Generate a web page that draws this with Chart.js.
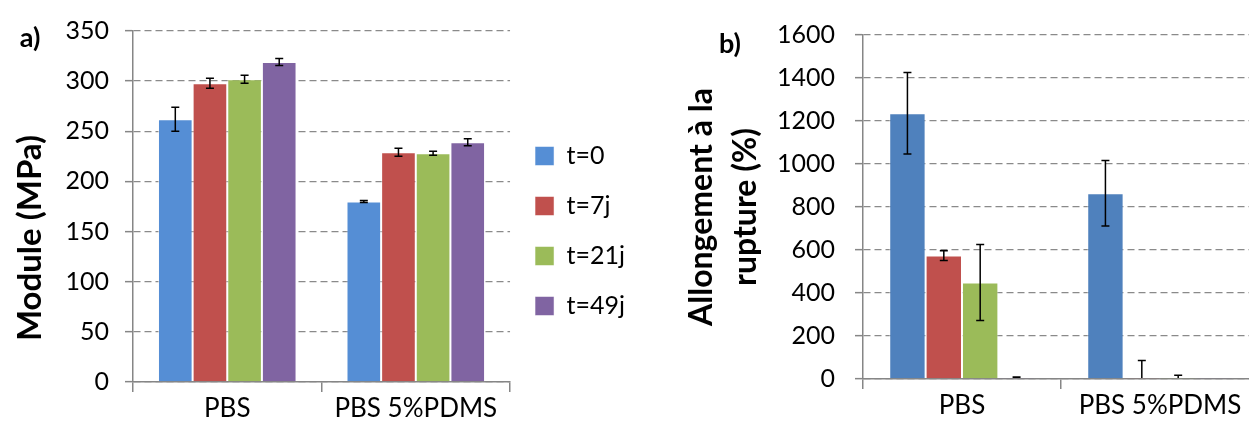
<!DOCTYPE html>
<html>
<head>
    <meta charset="UTF-8">
    <title>Module et allongement</title>
    <style>
        body { margin: 0; background: #fff; overflow: hidden; width: 1249px; height: 435px; position: relative; }
        canvas { position: absolute; top: 0; }
        #chart-a { left: 0; }
        #chart-b { left: 640px; }
    </style>
    <script src="https://cdn.jsdelivr.net/npm/chart.js@4.4.0/dist/chart.umd.min.js"></script>
</head>
<body>
<canvas id="chart-a" width="640" height="435"></canvas>
<canvas id="chart-b" width="640" height="435"></canvas>
<script>
    // données
    var categories = ['PBS', 'PBS 5%PDMS'];
    var seriesNames = ['t=0', 't=7j', 't=21j', 't=49j'];

    // a) module (MPa)
    var moduleT0 = [262, 180];
    var moduleT7 = [298, 229];
    var moduleT21 = [302, 228];
    var moduleT49 = [319, 239];
    var moduleErrT0 = [12, 1];
    var moduleErrT7 = [5, 4];
    var moduleErrT21 = [4, 2];
    var moduleErrT49 = [3.5, 3.5];

    // b) allongement a la rupture (%)
    var allongT0 = [1236, 864];
    var allongT7 = [574, 2];
    var allongT21 = [449, 2];
    var allongT49 = [6, 2];
    var allongErrT0 = [190, 152];
    var allongErrT7 = [23, 84];
    var allongErrT21 = [177, 15];
    var allongErrT49 = [3, 0];

    var FONT = 'Lato';
    var gray = '#868686';

    // barres d'erreur dessinées avec l'échelle y
    var errorBars = {
        id: 'errorBars',
        afterDatasetsDraw: function(chart) {
            var ctx = chart.ctx, area = chart.chartArea, y = chart.scales.y;
            ctx.save();
            ctx.beginPath();
            ctx.rect(area.left, area.top - 2, area.right - area.left, area.bottom - area.top + 1);
            ctx.clip();
            ctx.strokeStyle = '#000';
            ctx.lineWidth = 1.5;
            chart.data.datasets.forEach(function(ds, i) {
                chart.getDatasetMeta(i).data.forEach(function(bar, j) {
                    var e = ds.errors[j];
                    if (!e) return;
                    var top = y.getPixelForValue(ds.data[j] + e);
                    var bot = y.getPixelForValue(ds.data[j] - e);
                    ctx.beginPath();
                    ctx.moveTo(bar.x, top); ctx.lineTo(bar.x, bot);
                    ctx.moveTo(bar.x - 4, top); ctx.lineTo(bar.x + 4, top);
                    ctx.moveTo(bar.x - 4, bot); ctx.lineTo(bar.x + 4, bot);
                    ctx.stroke();
                });
            });
            ctx.restore();
        }
    };

    // lettres a) b) et titre vertical libre
    var extraText = {
        id: 'extraText',
        afterDraw: function(chart, args, opts) {
            var ctx = chart.ctx;
            ctx.save();
            ctx.fillStyle = '#000';
            ctx.textAlign = 'center';
            ctx.textBaseline = 'middle';
            ctx.font = 'bold 27px ' + FONT;
            ctx.fillText(opts.letter, opts.lx, opts.ly);
            if (opts.title) {
                ctx.translate(opts.tx, opts.ty);
                ctx.rotate(-Math.PI / 2);
                ctx.font = 'bold 33px ' + FONT;
                ctx.fillText(opts.title, 0, 0);
            }
            ctx.restore();
        }
    };

    function makeDatasets(values, errors, colors) {
        return values.map(function(v, i) {
            return {
                label: seriesNames[i],
                data: v,
                errors: errors[i],
                backgroundColor: colors[i],
                borderColor: 'rgba(255,255,255,0.5)',
                borderWidth: 1,
                categoryPercentage: 0.735,
                barPercentage: 1
            };
        });
    }

    function xAxis(h) {
        return {
            grid: { offset: true, drawOnChartArea: false, drawTicks: true, tickLength: 10, color: gray, lineWidth: 1.5 },
            border: { color: gray, width: 1.5 },
            ticks: { color: '#000', font: { family: FONT, size: 26 }, padding: 1 },
            afterFit: function(s) { s.height = h; }
        };
    }

    function yAxis(max, step, pad, w) {
        return {
            min: 0, max: max,
            ticks: {
                stepSize: step, color: '#000', font: { family: FONT, size: 25 }, padding: pad,
                callback: function(v) { return String(v); }
            },
            grid: { color: '#8a8a8a', lineWidth: 1.3, tickLength: 8, tickColor: gray, tickWidth: 1.5 },
            border: { color: gray, width: 1.5, dash: [7, 4] },
            afterFit: function(s) { s.width = w; }
        };
    }

    new Chart(document.getElementById('chart-a'), {
        type: 'bar',
        data: {
            labels: categories,
            datasets: makeDatasets(
                [moduleT0, moduleT7, moduleT21, moduleT49],
                [moduleErrT0, moduleErrT7, moduleErrT21, moduleErrT49],
                ['#558ED5', '#C0504D', '#9BBB59', '#8064A2'])
        },
        options: {
            responsive: false,
            animation: false,
            layout: { padding: { top: 27, left: 0, right: 5, bottom: 0 } },
            scales: {
                x: xAxis(53),
                y: yAxis(350, 50, 16, 133)
            },
            plugins: {
                legend: {
                    position: 'right',
                    labels: { boxWidth: 19, boxHeight: 19, padding: 25, color: '#000', font: { family: FONT, size: 25 } }
                },
                tooltip: { enabled: false },
                extraText: { letter: 'a)', lx: 30, ly: 38, title: 'Module (MPa)', tx: 30, ty: 238 }
            }
        },
        plugins: [errorBars, extraText]
    });

    var yB = yAxis(1600, 200, 20, 223);
    yB.title = {
        display: true,
        text: ['Allongement à la', 'rupture (%)'],
        color: '#000',
        font: { family: FONT, size: 32, weight: 'bold', lineHeight: 1.375 },
        padding: { top: 40 }
    };

    new Chart(document.getElementById('chart-b'), {
        type: 'bar',
        data: {
            labels: categories,
            datasets: makeDatasets(
                [allongT0, allongT7, allongT21, allongT49],
                [allongErrT0, allongErrT7, allongErrT21, allongErrT49],
                ['#4F81BD', '#C0504D', '#9BBB59', '#8064A2'])
        },
        options: {
            responsive: false,
            animation: false,
            layout: { padding: { top: 27, left: 0, right: 21, bottom: 0 } },
            scales: {
                x: xAxis(56),
                y: yB
            },
            plugins: {
                legend: { display: false },
                tooltip: { enabled: false },
                extraText: { letter: 'b)', lx: 90, ly: 44 }
            }
        },
        plugins: [errorBars, extraText]
    });
</script>
</body>
</html>
